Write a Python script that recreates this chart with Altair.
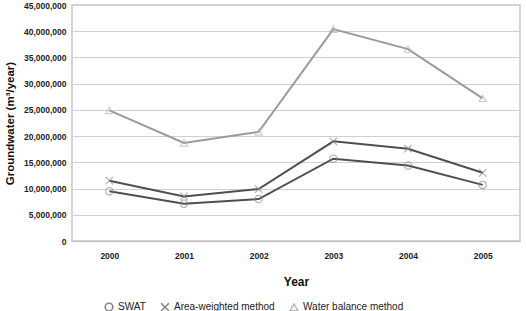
import altair as alt
import pandas as pd

years = ["2000", "2001", "2002", "2003", "2004", "2005"]
series_names = ["SWAT", "Area-weighted method", "Water balance method"]
swat = [9500000, 7100000, 8000000, 15700000, 14400000, 10700000]
area_weighted = [11500000, 8500000, 9900000, 19000000, 17600000, 13000000]
water_balance = [24900000, 18700000, 20800000, 40400000, 36600000, 27200000]

rows = []
for name, vals in zip(series_names, [swat, area_weighted, water_balance]):
    for y, v in zip(years, vals):
        rows.append({"Year": y, "Series": name, "Groundwater": v})
df = pd.DataFrame(rows)

line_colors = ["#4f4f4f", "#4f4f4f", "#9a9a9a"]
marker_colors = ["#8a8a8a", "#8a8a8a", "#b8b8b8"]
x_shape = "M-1,-1L1,1M-1,1L1,-1"
shapes = ["circle", x_shape, "triangle-up"]

font = "Liberation Sans"

x_enc = alt.X(
    "Year:O",
    sort=years,
    scale=alt.Scale(paddingInner=0, paddingOuter=0),
    axis=alt.Axis(
        title="Year",
        labelAngle=0,
        labelFont=font,
        labelFontSize=8.5,
        labelFontWeight="bold",
        labelColor="#222",
        labelPadding=10,
        ticks=False,
        domainColor="#c8c8c8",
        domainWidth=1.5,
        titleFont=font,
        titleFontSize=12,
        titleFontWeight="bold",
        titleColor="#111",
        titlePadding=17,
    ),
)
y_enc = alt.Y(
    "Groundwater:Q",
    scale=alt.Scale(domain=[0, 45000000], nice=False),
    axis=alt.Axis(
        title="Groundwater (m³/year)",
        values=list(range(0, 45000001, 5000000)),
        format=",d",
        labelFont=font,
        labelFontSize=8.5,
        labelFontWeight="bold",
        labelColor="#222",
        labelPadding=6,
        ticks=False,
        domain=False,
        gridColor="#cfcfcf",
        gridWidth=1.2,
        titleFont=font,
        titleFontSize=11.5,
        titleFontWeight="bold",
        titleColor="#111",
        titlePadding=8,
    ),
)

legend = alt.Legend(
    title=None,
    orient="none",
    legendX=32,
    legendY=297,
    direction="horizontal",
    labelFont=font,
    labelFontSize=10,
    labelColor="#222",
    symbolSize=60,
    columnPadding=12,
)

lines = alt.Chart(df).mark_line(strokeWidth=2).encode(
    x=x_enc,
    y=y_enc,
    color=alt.Color(
        "Series:N",
        sort=series_names,
        scale=alt.Scale(domain=series_names, range=line_colors),
        legend=legend,
    ),
)

points = alt.Chart(df).mark_point(filled=False, size=55, strokeWidth=1.1).encode(
    x=x_enc,
    y=y_enc,
    shape=alt.Shape(
        "Series:N",
        sort=series_names,
        scale=alt.Scale(domain=series_names, range=shapes),
        legend=legend,
    ),
    stroke=alt.Stroke(
        "Series:N",
        scale=alt.Scale(domain=series_names, range=marker_colors),
        legend=None,
    ),
)

chart = (
    alt.layer(lines, points)
    .properties(
        width=448,
        height=236,
        autosize=alt.AutoSizeParams(type="none"),
        padding={"left": 72, "top": 5, "right": 6, "bottom": 70},
        background="white",
    )
    .configure_view(stroke="#c8c8c8", strokeWidth=1.5)
)

chart.save("out.html", embed_options={"renderer": "svg", "actions": False})
